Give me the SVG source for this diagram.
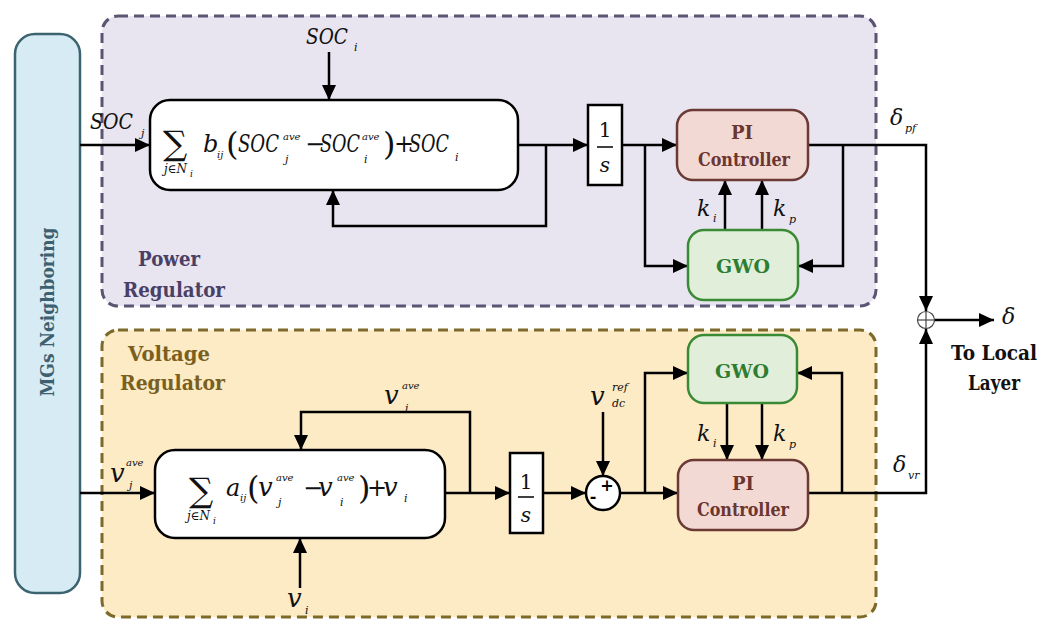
<svg xmlns="http://www.w3.org/2000/svg" width="1045" height="621" viewBox="0 0 1045 621" font-family="DejaVu Serif, Liberation Serif, serif">
<style>
.ln{fill:none;stroke:#000;stroke-width:2.5}
.ar{marker-end:url(#ah)}
.m{font-style:italic;fill:#111}
.n{font-style:normal}
.u{fill:#111}
.b{font-weight:bold}
.pi{fill:#f3d9d4;stroke:#6b3a35;stroke-width:2.5}
.gw{fill:#e1efda;stroke:#3a8a35;stroke-width:2.5}
.fb{fill:#fff;stroke:#000;stroke-width:2.5}
</style>
<defs>
<marker id="ah" markerUnits="userSpaceOnUse" markerWidth="16" markerHeight="14" refX="15" refY="7" orient="auto">
<path d="M0,0 L15,7 L0,14 z" fill="#000"/>
</marker>
</defs>
<rect width="1045" height="621" fill="#fff"/>

<g id="power-regulator">
<rect x="102" y="16" width="774" height="290" rx="16" fill="#e8e5f0" stroke="#5b5472" stroke-width="3" stroke-dasharray="10 6"/>
<text class="b" x="138" y="266" font-size="21" fill="#4a3f66" textLength="62" lengthAdjust="spacingAndGlyphs">Power</text>
<text class="b" x="123" y="297" font-size="21" fill="#4a3f66" textLength="102" lengthAdjust="spacingAndGlyphs">Regulator</text>
</g>
<g id="voltage-regulator">
<rect x="102" y="330" width="774" height="287" rx="16" fill="#fdebc6" stroke="#7d6a2b" stroke-width="3" stroke-dasharray="10 6"/>
<text class="b" x="128" y="361" font-size="21" fill="#7a6020" textLength="82" lengthAdjust="spacingAndGlyphs">Voltage</text>
<text class="b" x="120" y="390" font-size="21" fill="#7a6020" textLength="105" lengthAdjust="spacingAndGlyphs">Regulator</text>
</g>
<g id="mgs-neighboring">
<rect x="15" y="34" width="65" height="559" rx="20" fill="#d6ebf3" stroke="#3b6470" stroke-width="2.5"/>
<text class="b" transform="translate(54,312) rotate(-90)" text-anchor="middle" font-size="18" fill="#3d6070" textLength="169" lengthAdjust="spacingAndGlyphs">MGs Neighboring</text>
</g>

<g id="connectors">
<line class="ln ar" x1="329" y1="52" x2="329" y2="100"/>
<line class="ln ar" x1="80" y1="145" x2="150" y2="145"/>
<line class="ln ar" x1="518" y1="145" x2="588" y2="145"/>
<polyline class="ln ar" points="546,145 546,226 333,226 333,190"/>
<line class="ln ar" x1="622" y1="145" x2="677" y2="145"/>
<polyline class="ln ar" points="645,145 645,266 688,266"/>
<line class="ln ar" x1="725" y1="230" x2="725" y2="180"/>
<line class="ln ar" x1="762" y1="230" x2="762" y2="180"/>
<polyline class="ln ar" points="808,145 926,145 926,311"/>
<polyline class="ln ar" points="843,145 843,266 798,266"/>
<line class="ln ar" x1="80" y1="493" x2="155" y2="493"/>
<line class="ln ar" x1="300" y1="588" x2="300" y2="538"/>
<line class="ln ar" x1="445" y1="493" x2="510" y2="493"/>
<polyline class="ln ar" points="470,493 470,412 301,412 301,450"/>
<line class="ln ar" x1="543" y1="493" x2="586" y2="493"/>
<line class="ln ar" x1="603" y1="412" x2="603" y2="476"/>
<line class="ln ar" x1="620" y1="493" x2="678" y2="493"/>
<polyline class="ln ar" points="645,493 645,373 688,373"/>
<line class="ln ar" x1="727" y1="403" x2="727" y2="460"/>
<line class="ln ar" x1="762" y1="403" x2="762" y2="460"/>
<polyline class="ln ar" points="808,493 926,493 926,329"/>
<polyline class="ln ar" points="842,493 842,373 797,373"/>
<line class="ln ar" x1="935" y1="320" x2="994" y2="320"/>
</g>

<g id="top-consensus">
<rect class="fb" x="150" y="100" width="368" height="90" rx="20"/>
<text class="m" font-size="24"><tspan class="n" x="163" y="155" font-size="34">∑</tspan><tspan x="164" y="173" font-size="12">j∈N</tspan><tspan x="190" y="177" font-size="9">i</tspan><tspan x="203" y="152">b</tspan><tspan x="217" y="158" font-size="10">ij</tspan><tspan class="n" x="226" y="155" font-size="32">(</tspan><tspan x="238" y="152" textLength="41" lengthAdjust="spacingAndGlyphs">SOC</tspan><tspan x="283" y="140" font-size="10">ave</tspan><tspan x="285" y="163" font-size="11">j</tspan><tspan class="n" x="305" y="152">−</tspan><tspan x="320" y="152" textLength="40" lengthAdjust="spacingAndGlyphs">SOC</tspan><tspan x="362" y="140" font-size="10">ave</tspan><tspan x="364" y="163" font-size="11">i</tspan><tspan class="n" x="383" y="155" font-size="32">)</tspan><tspan class="n" x="394" y="152">+</tspan><tspan x="409" y="152" textLength="40" lengthAdjust="spacingAndGlyphs">SOC</tspan><tspan x="455" y="161" font-size="11">i</tspan></text>
</g>
<g id="top-labels">
<text class="m" font-size="22"><tspan x="306" y="44" textLength="42" lengthAdjust="spacingAndGlyphs">SOC</tspan><tspan x="354" y="51" font-size="11">i</tspan></text>
<text class="m" font-size="22"><tspan x="90" y="129" textLength="43" lengthAdjust="spacingAndGlyphs">SOC</tspan><tspan x="141" y="137" font-size="11">j</tspan></text>
<text class="m" font-size="22"><tspan x="697" y="216">k</tspan><tspan x="713" y="222" font-size="11">i</tspan></text>
<text class="m" font-size="22"><tspan x="773" y="216">k</tspan><tspan x="789" y="223" font-size="11">p</tspan></text>
<text class="m" font-size="22"><tspan x="890" y="125">δ</tspan><tspan x="905" y="132" font-size="11">pf</tspan></text>
</g>
<g id="top-integrator">
<rect class="fb" x="588" y="105" width="34" height="80"/>
<text class="u" x="605" y="137" font-size="20" text-anchor="middle">1</text>
<line x1="597" y1="147" x2="613" y2="147" stroke="#000" stroke-width="1.5"/>
<text class="m" x="605" y="172" font-size="20" text-anchor="middle">s</text>
</g>
<g id="top-pi">
<rect class="pi" x="677" y="110" width="131" height="70" rx="16"/>
<text class="b" x="742" y="139" font-size="18" fill="#6b3530" text-anchor="middle">PI</text>
<text class="b" x="744" y="166" font-size="18" fill="#6b3530" text-anchor="middle" textLength="92" lengthAdjust="spacingAndGlyphs">Controller</text>
</g>
<g id="top-gwo">
<rect class="gw" x="688" y="230" width="110" height="70" rx="16"/>
<text class="b" x="743" y="273" font-size="18" fill="#2e7d32" text-anchor="middle" textLength="54" lengthAdjust="spacingAndGlyphs">GWO</text>
</g>

<g id="bottom-consensus">
<rect class="fb" x="155" y="450" width="290" height="88" rx="20"/>
<text class="m" font-size="26"><tspan class="n" x="189" y="502" font-size="34">∑</tspan><tspan x="187" y="520" font-size="12">j∈N</tspan><tspan x="213" y="524" font-size="9">i</tspan><tspan x="226" y="496" font-size="24">a</tspan><tspan x="240" y="501" font-size="10">ij</tspan><tspan class="n" x="247" y="499" font-size="32">(</tspan><tspan x="258" y="496">v</tspan><tspan x="276" y="481" font-size="10">ave</tspan><tspan x="278" y="506" font-size="11">j</tspan><tspan class="n" x="303" y="496" font-size="24">−</tspan><tspan x="318" y="496">v</tspan><tspan x="337" y="481" font-size="10">ave</tspan><tspan x="340" y="506" font-size="11">i</tspan><tspan class="n" x="358" y="499" font-size="32">)</tspan><tspan class="n" x="367" y="496" font-size="24">+</tspan><tspan x="383" y="496">v</tspan><tspan x="404" y="502" font-size="11">i</tspan></text>
</g>
<g id="bottom-labels">
<text class="m" font-size="26"><tspan x="110" y="482">v</tspan><tspan x="126" y="466" font-size="10">ave</tspan><tspan x="129" y="489" font-size="11">j</tspan></text>
<text class="m" font-size="26"><tspan x="384" y="404">v</tspan><tspan x="402" y="389" font-size="10">ave</tspan><tspan x="405" y="412" font-size="11">i</tspan></text>
<text class="m" font-size="26"><tspan x="287" y="607">v</tspan><tspan x="305" y="614" font-size="11">i</tspan></text>
<text class="m" font-size="26"><tspan x="590" y="405">v</tspan><tspan x="612" y="391" font-size="11">ref</tspan><tspan x="612" y="407" font-size="11">dc</tspan></text>
<text class="m" font-size="22"><tspan x="697" y="441">k</tspan><tspan x="713" y="447" font-size="11">i</tspan></text>
<text class="m" font-size="22"><tspan x="773" y="441">k</tspan><tspan x="789" y="448" font-size="11">p</tspan></text>
<text class="m" font-size="22"><tspan x="893" y="472">δ</tspan><tspan x="908" y="479" font-size="11">vr</tspan></text>
</g>
<g id="bottom-integrator">
<rect class="fb" x="510" y="453" width="33" height="80"/>
<text class="u" x="526" y="489" font-size="20" text-anchor="middle">1</text>
<line x1="518" y1="497" x2="534" y2="497" stroke="#000" stroke-width="1.5"/>
<text class="m" x="526" y="522" font-size="20" text-anchor="middle">s</text>
</g>
<g id="bottom-sum">
<circle cx="603" cy="493" r="17" fill="#fff" stroke="#000" stroke-width="2.5"/>
<text class="b" font-size="16" fill="#000" text-anchor="middle"><tspan x="607" y="491">+</tspan><tspan x="593" y="502">-</tspan></text>
</g>
<g id="bottom-gwo">
<rect class="gw" x="688" y="335" width="109" height="68" rx="16"/>
<text class="b" x="742" y="378" font-size="18" fill="#2e7d32" text-anchor="middle" textLength="54" lengthAdjust="spacingAndGlyphs">GWO</text>
</g>
<g id="bottom-pi">
<rect class="pi" x="678" y="460" width="130" height="70" rx="16"/>
<text class="b" x="743" y="490" font-size="18" fill="#6b3530" text-anchor="middle">PI</text>
<text class="b" x="743" y="516" font-size="18" fill="#6b3530" text-anchor="middle" textLength="92" lengthAdjust="spacingAndGlyphs">Controller</text>
</g>

<g id="output-sum">
<circle cx="926" cy="320" r="8.5" fill="#fff" stroke="#444" stroke-width="1.2"/>
<line x1="917.5" y1="320" x2="934.5" y2="320" stroke="#444" stroke-width="1.2"/>
<line x1="926" y1="311.5" x2="926" y2="328.5" stroke="#444" stroke-width="1.2"/>
<text class="m" x="1002" y="324" font-size="22">δ</text>
<text class="b" x="994" y="360" font-size="20" fill="#111" text-anchor="middle" textLength="86" lengthAdjust="spacingAndGlyphs">To Local</text>
<text class="b" x="994" y="390" font-size="20" fill="#111" text-anchor="middle" textLength="52" lengthAdjust="spacingAndGlyphs">Layer</text>
</g>
</svg>
